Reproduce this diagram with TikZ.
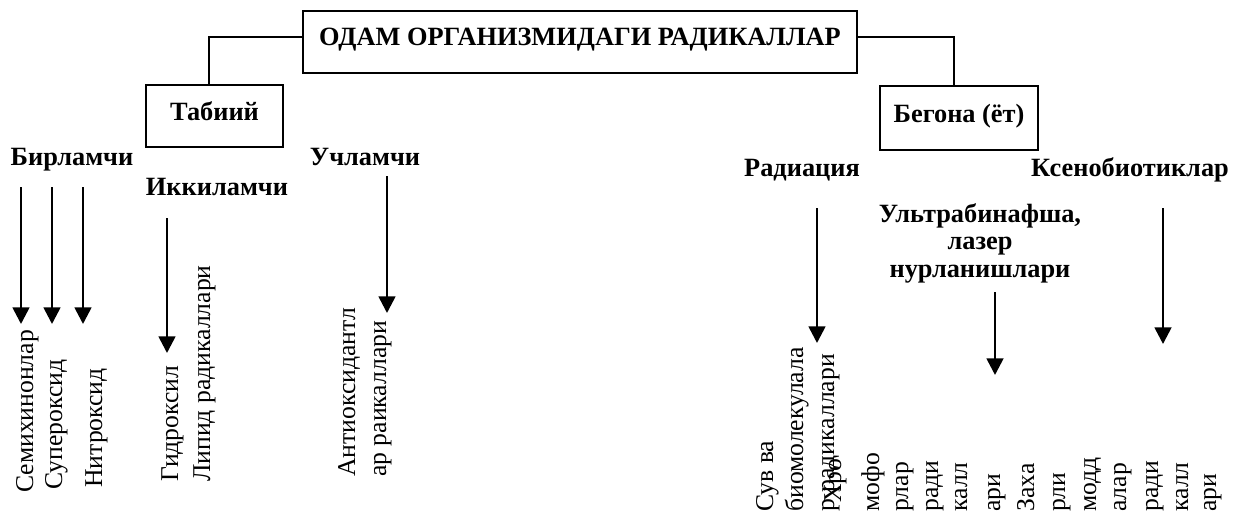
\documentclass[tikz,border=0pt]{standalone}
\usepackage{fontspec}
\setmainfont{Liberation Serif}
\usetikzlibrary{arrows.meta}
\newcommand\hfont{\fontsize{15}{15.6}\selectfont\bfseries}

\begin{document}
\fontsize{14.6}{15.6}\selectfont
\begin{tikzpicture}[x=0.02cm,y=-0.02cm,
    box/.style={draw,line width=1pt,font=\hfont,inner sep=0pt,
      text height=10pt,text depth=5pt},
    lbl/.style={font=\hfont,inner sep=0pt,anchor=base},
    vtxt/.style={rotate=90,anchor=base west,inner sep=0pt},
    link/.style={line width=0.9pt},
    arr/.style={line width=1.5pt,-{Triangle[width=9.5pt,length=9.5pt]}}]
  \useasboundingbox (0,0) rectangle (1237,515);
  % boxes
  \node[box,minimum width=11.08cm,minimum height=1.24cm,text height=10pt,text depth=6pt]
    (title) at (580,42) {ОДАМ ОРГАНИЗМИДАГИ РАДИКАЛЛАР};
  \node[box,minimum width=2.74cm,minimum height=1.24cm] (tab) at (214.5,116) {Табиий};
  \node[box,minimum width=3.16cm,minimum height=1.28cm] (beg) at (959,118) {Бегона (ёт)};
  % links
  \draw[link] ([yshift=3pt]title.west) -| ([xshift=-3pt]tab.north);
  \draw[link] ([yshift=3pt]title.east) -| ([xshift=-3pt]beg.north);
  % groups
  \node[lbl] (bir) at (72,165) {Бирламчи};
  \node[lbl] (ikk) at (217,195) {Иккиламчи};
  \node[lbl] (uch) at (365,165) {Учламчи};
  \node[lbl] (rad) at (802,176) {Радиация};
  \node[lbl] (ksn) at (1130,176) {Ксенобиотиклар};
  \node[font=\hfont,inner sep=0pt,align=center] (ult) at (980,243)
    {Ультрабинафша,\\лазер\\нурланишлари};
  % arrow ends
  \coordinate (a1) at (21,187);  \coordinate (b1) at (21,324);
  \coordinate (a2) at (52,187);  \coordinate (b2) at (52,324);
  \coordinate (a3) at (83,187);  \coordinate (b3) at (83,324);
  \coordinate (a4) at (167,218); \coordinate (b4) at (167,353);
  \coordinate (a5) at (387,176); \coordinate (b5) at (387,313);
  \coordinate (a6) at (817,208); \coordinate (b6) at (817,343);
  \coordinate (a7) at (995,292); \coordinate (b7) at (995,375);
  \coordinate (a8) at (1163,208); \coordinate (b8) at (1163,344);
  % arrows
  \draw[arr] (a1) -- (b1);
  \draw[arr] (a2) -- (b2);
  \draw[arr] (a3) -- (b3);
  \draw[arr] (a4) -- (b4);
  \draw[arr] (a5) -- (b5);
  \draw[arr] (a6) -- (b6);
  \draw[arr] (a7) -- (b7);
  \draw[arr] (a8) -- (b8);
  % radicals, left
  \node[vtxt] (t1) at (33,493) {Семихинонлар};
  \node[vtxt] (t2) at (62,490) {Супероксид};
  \node[vtxt] (t3) at (102,488) {Нитроксид};
  \node[vtxt] (t4) at (178,482) {Гидроксил};
  \node[vtxt] (t5) at (210,482) {Липид радикаллари};
  \node[vtxt] (t6) at (355,477) {Антиоксидантл};
  \node[vtxt] (t7) at (386,477) {ар раикаллари};
  % radicals, right
  \node[vtxt] (r1) at (773,512) {Сув ва};
  \node[vtxt] (r2) at (803,512) {биомолекулала};
  \node[vtxt] (r3) at (834,512) {р радикаллари};
  \node[vtxt] (r4) at (841,503) {Хро};
  \node[vtxt] (r5) at (879,512) {мофо};
  \node[vtxt] (r6) at (908,512) {рлар};
  \node[vtxt] (r7) at (938,512) {ради};
  \node[vtxt] (r8) at (967,512) {калл};
  \node[vtxt] (r9) at (1000,512) {ари};
  \node[vtxt] (r10) at (1034,512) {Заха};
  \node[vtxt] (r11) at (1065,512) {рли};
  \node[vtxt] (r12) at (1096,512) {модд};
  \node[vtxt] (r13) at (1126,512) {алар};
  \node[vtxt] (r14) at (1158,512) {ради};
  \node[vtxt] (r15) at (1188,512) {калл};
  \node[vtxt] (r16) at (1216,512) {ари};
\end{tikzpicture}
\end{document}
